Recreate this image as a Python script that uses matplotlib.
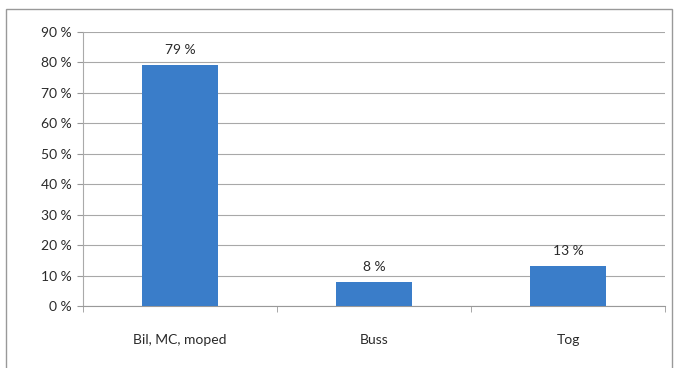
import matplotlib.pyplot as plt
import matplotlib.patches as mpatches

categories = ['Bil, MC, moped', 'Buss', 'Tog']
values = [79, 8, 13]
yticks = [0, 10, 20, 30, 40, 50, 60, 70, 80, 90]

plt.rcParams['font.family'] = ['Lato', 'DejaVu Sans']

fig = plt.figure(figsize=(6.74, 3.68), dpi=100)
ax = fig.add_axes([83/674, 1 - 306/368, 582/674, 274/368])

x = range(len(categories))
bars = ax.bar(x, values, width=0.39, color='#3a7dc9', zorder=3)

# etiquetas de valor sobre las barras
for bar, v in zip(bars, values):
    ax.text(bar.get_x() + bar.get_width()/2, v + 3, f'{v} %', ha='center', va='bottom',
            fontsize=10, color='#2a2a2a')

ax.set_xlim(-0.5, 2.5)
ax.set_ylim(0, 90)
ax.set_yticks(yticks)
ax.set_yticklabels([f'{t} %' for t in yticks], fontsize=10, color='#2a2a2a')
ax.set_xticks(list(x))
ax.set_xticklabels(categories, fontsize=10, color='#2a2a2a')
ax.tick_params(axis='x', length=0, pad=20)
ax.tick_params(axis='y', length=4, color='#999999', pad=4)

ax.set_xticks([-0.5, 0.5, 1.5, 2.5], minor=True)
ax.tick_params(axis='x', which='minor', length=4, color='#999999')

ax.grid(axis='y', color='#a8a8a8', linewidth=0.8, zorder=0)
for side in ['top', 'right']:
    ax.spines[side].set_visible(False)
ax.spines['left'].set_color('#aaaaaa')
ax.spines['bottom'].set_color('#999999')

# marco exterior
fig.patches.append(mpatches.Rectangle((6/674, -0.02), 666/674, 1 - 9/368 + 0.02,
                                      transform=fig.transFigure, fill=False,
                                      edgecolor='#999999', linewidth=1))

fig.savefig('out.png', dpi=100)
